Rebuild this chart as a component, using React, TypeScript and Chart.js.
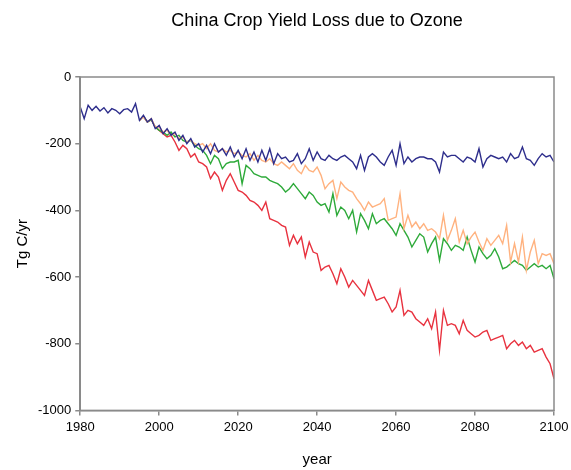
import React, { useEffect, useRef } from "react";
import { Chart, registerables } from "chart.js";

Chart.register(...registerables);

const START_YEAR = 1980;
const END_YEAR = 2100;
const SCENARIO_START = 1995;
const TITLE = "China Crop Yield Loss due to Ozone";

const blueValues = [
  -90, -125, -85, -100, -88, -102, -92, -108, -95, -100,
  -110, -98, -95, -105, -80, -130, -115, -135, -125, -155,
  -145, -170, -155, -175, -165, -190, -175, -200, -185, -210,
  -200, -225, -205, -230, -200, -225, -215, -235, -210, -240,
  -220, -245, -215, -250, -225, -255, -220, -250, -215, -260,
  -230, -245, -240, -255, -250, -230, -260, -245, -215, -250,
  -225, -245, -250, -235, -245, -250, -240, -235, -245, -255,
  -275, -235, -280, -240, -230, -240, -255, -265, -240, -220,
  -265, -200, -260, -240, -255, -245, -240, -240, -245, -245,
  -255, -285, -225, -240, -235, -235, -245, -255, -240, -245,
  -255, -215, -270, -245, -235, -240, -245, -240, -255, -230,
  -245, -240, -210, -245, -250, -265, -245, -230, -240, -235,
  -255,
];

const orangeValues = [
  -130, -120, -135, -125, -150,
  -150, -165, -160, -175, -170, -185, -180, -195, -190, -200,
  -205, -200, -215, -200, -220, -225, -215, -225, -220, -230,
  -225, -235, -240, -230, -250, -235, -250, -255, -245, -260,
  -265, -255, -265, -275, -260, -280, -290, -265, -280, -285,
  -270, -295, -335, -320, -310, -365, -315, -330, -340, -345,
  -365, -380, -400, -375, -390, -385, -380, -365, -430, -425,
  -420, -350, -455, -415, -450, -435, -455, -440, -460, -455,
  -465, -485, -415, -490, -460, -425, -495, -460, -500, -480,
  -465, -495, -520, -485, -505, -490, -475, -500, -445, -555,
  -500, -555, -480, -580, -525, -490, -560, -530, -535, -530,
  -560,
];

const greenValues = [
  -130, -118, -135, -128, -150,
  -160, -165, -175, -165, -180, -175, -190, -195, -190, -205,
  -215, -220, -235, -260, -235, -245, -275, -260, -255, -255,
  -250, -320, -265, -275, -290, -295, -300, -300, -310, -315,
  -320, -330, -345, -335, -320, -335, -350, -365, -345, -355,
  -375, -385, -380, -405, -350, -415, -390, -400, -425, -400,
  -465, -410, -430, -455, -410, -440, -430, -425, -440, -455,
  -475, -440, -460, -480, -510, -490, -470, -480, -525, -500,
  -480, -550, -485, -500, -520, -505, -510, -520, -480, -520,
  -555, -510, -530, -545, -535, -515, -540, -575, -570, -560,
  -550, -560, -565, -580, -570, -560, -570, -565, -575, -565,
  -605,
];

const redValues = [
  -130, -118, -135, -128, -150,
  -160, -170, -180, -175, -195, -220, -205, -215, -240, -230,
  -255, -260, -270, -305, -285, -300, -340, -310, -290, -315,
  -340, -345, -355, -370, -375, -385, -400, -375, -425, -430,
  -435, -445, -450, -505, -475, -500, -480, -540, -495, -525,
  -530, -580, -570, -565, -590, -620, -575, -600, -630, -610,
  -625, -640, -655, -610, -640, -670, -665, -660, -680, -705,
  -690, -640, -715, -700, -705, -725, -735, -745, -725, -755,
  -705, -820, -700, -745, -740, -745, -770, -730, -760, -770,
  -780, -775, -765, -760, -790, -785, -780, -775, -815, -800,
  -790, -805, -795, -815, -805, -825, -820, -815, -840, -860,
  -905,
];

const xTicks = [1980, 2000, 2020, 2040, 2060, 2080, 2100];
const yTicks = [0, -200, -400, -600, -800, -1000];

const FONT = "'Liberation Sans', Arial, sans-serif";

const toPoints = (start: number, values: number[]) =>
  values.map((v, i) => ({ x: start + i, y: v }));

const frame = {
  id: "frame",
  afterDraw(chart: any) {
    const { ctx, chartArea } = chart;
    ctx.save();
    ctx.strokeStyle = "#8a8a8a";
    ctx.lineWidth = 1.5;
    ctx.strokeRect(chartArea.left, chartArea.top, chartArea.right - chartArea.left, chartArea.bottom - chartArea.top);
    ctx.fillStyle = "#000";
    ctx.font = `18px ${FONT}`;
    ctx.textAlign = "center";
    ctx.textBaseline = "middle";
    ctx.fillText(TITLE, (chartArea.left + chartArea.right) / 2, 21);
    ctx.restore();
  },
};

export default function App() {
  const ref = useRef<HTMLCanvasElement | null>(null);
  useEffect(() => {
    document.body.style.margin = "0";
    if (!ref.current) return;
    const chart = new Chart(ref.current, {
      type: "line",
      data: {
        datasets: [
          { label: "blue", data: toPoints(START_YEAR, blueValues), borderColor: "#2e2e8c", borderWidth: 1.4, pointRadius: 0, tension: 0 },
          { label: "orange", data: toPoints(SCENARIO_START, orangeValues), borderColor: "#ffb27f", borderWidth: 1.4, pointRadius: 0, tension: 0 },
          { label: "green", data: toPoints(SCENARIO_START, greenValues), borderColor: "#2eaa3a", borderWidth: 1.4, pointRadius: 0, tension: 0 },
          { label: "red", data: toPoints(SCENARIO_START, redValues), borderColor: "#e8323f", borderWidth: 1.4, pointRadius: 0, tension: 0 },
        ],
      },
      plugins: [frame],
      options: {
        animation: false,
        responsive: false,
        layout: { padding: { left: 14, right: 0, top: 77, bottom: 1 } },
        plugins: {
          legend: { display: false },
          tooltip: { enabled: false },
          title: { display: false },
        },
        scales: {
          x: {
            type: "linear",
            min: START_YEAR,
            max: END_YEAR,
            afterBuildTicks: (axis: any) => {
              axis.ticks = xTicks.map((v) => ({ value: v }));
            },
            afterFit: (axis: any) => {
              axis.paddingRight = 17;
            },
            ticks: { color: "#000", font: { family: FONT, size: 13 }, padding: 4, callback: (v: any) => String(v) },
            grid: { drawOnChartArea: false, color: "#8a8a8a", tickLength: 5, lineWidth: 1.5 },
            border: { color: "#8a8a8a", width: 1.5 },
            title: { display: true, text: "year", color: "#000", font: { family: FONT, size: 15 }, padding: { top: 12, bottom: 0 } },
          },
          y: {
            type: "linear",
            min: -1000,
            max: 0,
            afterBuildTicks: (axis: any) => {
              axis.ticks = yTicks.map((v) => ({ value: v }));
            },
            ticks: { color: "#000", font: { family: FONT, size: 13 }, padding: 4, callback: (v: any) => String(v) },
            grid: { drawOnChartArea: false, color: "#8a8a8a", tickLength: 5, lineWidth: 1.5 },
            border: { color: "#8a8a8a", width: 1.5 },
            title: { display: true, text: "Tg C/yr", color: "#000", font: { family: FONT, size: 15 }, padding: { top: 0, bottom: 2 } },
          },
        },
      },
    } as any);
    return () => chart.destroy();
  }, []);
  return (
    <div style={{ width: 571, height: 470, background: "#fff" }}>
      <canvas ref={ref} width={571} height={470} style={{ display: "block", width: 571, height: 470 }} />
    </div>
  );
}
